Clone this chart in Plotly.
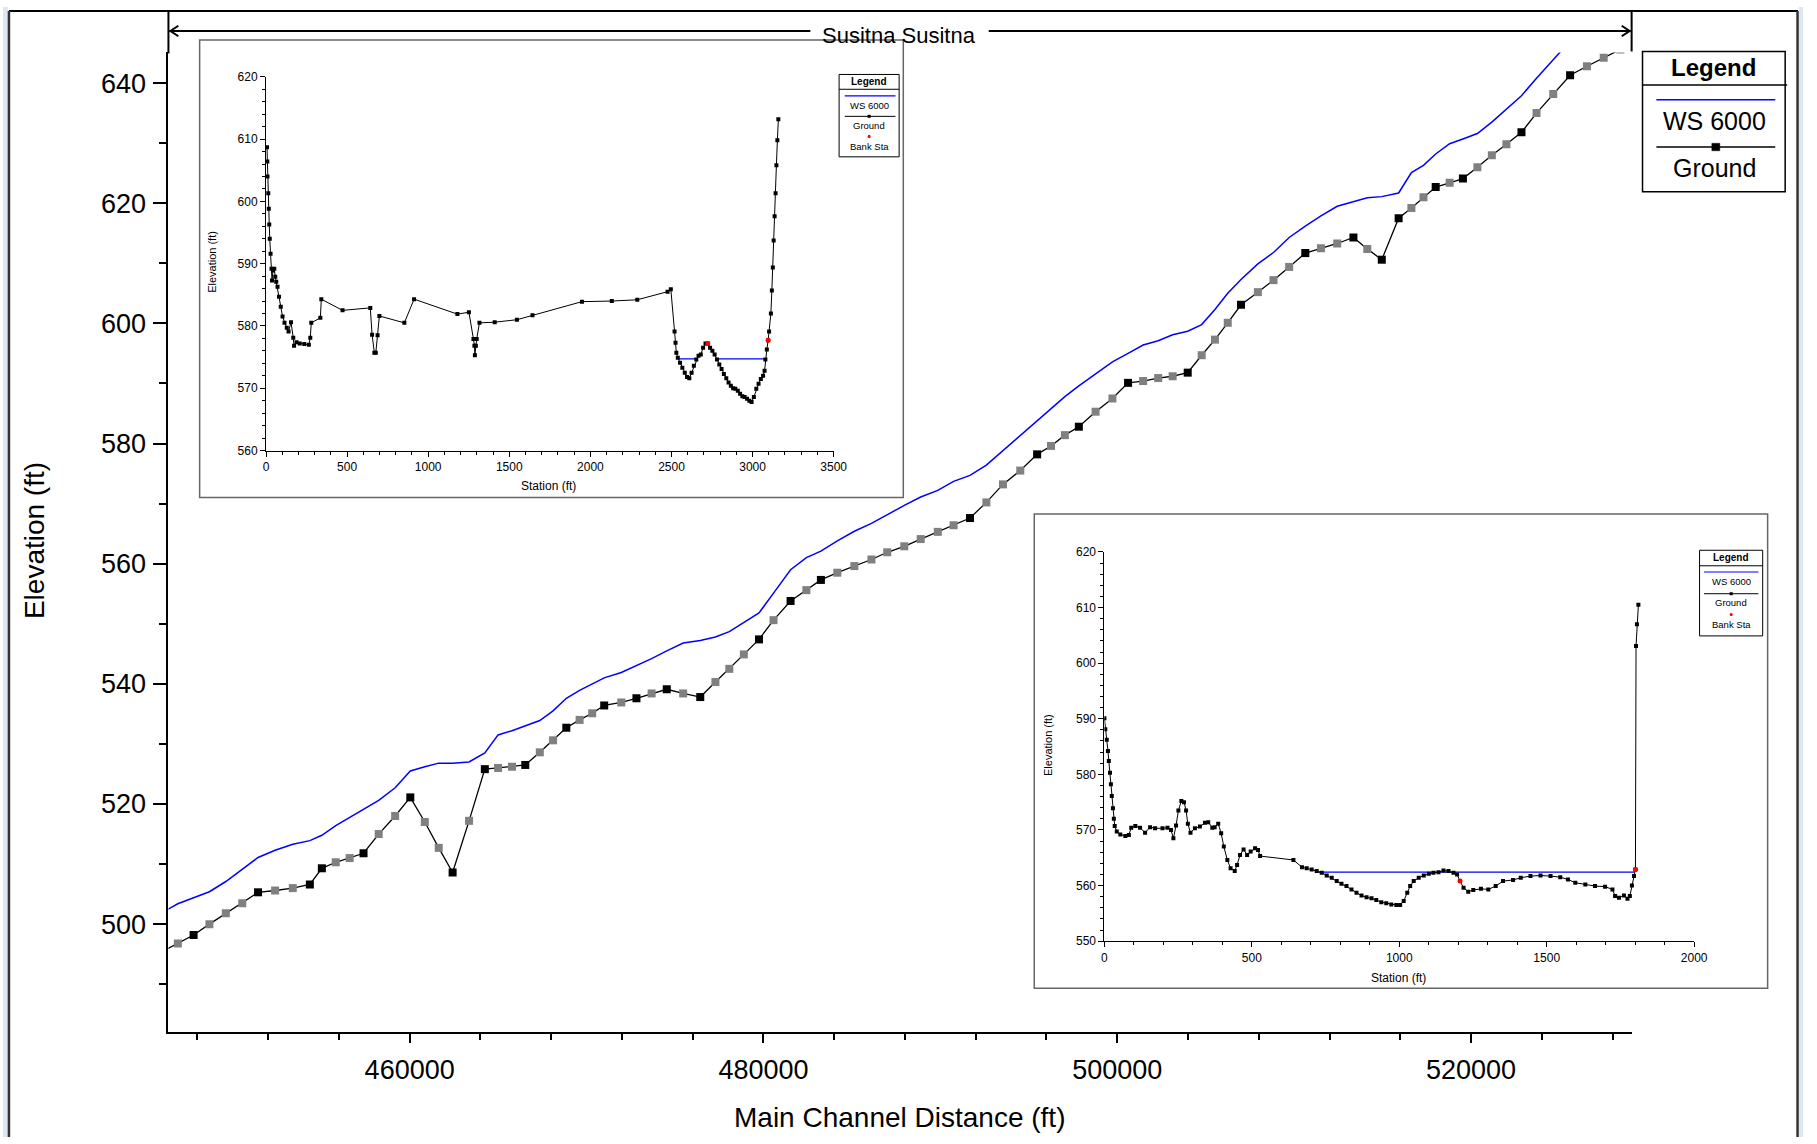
import plotly.graph_objects as go

W, H = 1817, 1144

# ---------------- main profile data ----------------
ground_dist = [445990, 446894, 447787, 448680, 449608, 450537, 451430, 452394, 453394, 454358,
               455036, 455822, 456608, 457393, 458250, 459179, 460036, 460857, 461643, 462428,
               463357, 464249, 464999, 465785, 466535, 467356, 468106, 468856, 469606, 470320,
               470998, 471963, 472820, 473677, 474534, 475462, 476427, 477284, 478069, 478891,
               479748, 480569, 481533, 482426, 483247, 484175, 485140, 486104, 486997, 487961,
               488889, 489854, 490747, 491675, 492600, 493538, 494518, 495470, 496254, 497038,
               497828, 498774, 499726, 500611, 501462, 502314, 503131, 503982, 504772, 505522,
               506245, 506995, 507947, 508832, 509717, 510630, 511514, 512433, 513351, 514135,
               514953, 515905, 516627, 517310, 518000, 518789, 519539, 520357, 521174, 521998,
               522849, 523700, 524646, 525598, 526550, 527497, 528440]
ground_elev = [495.4, 496.8, 498.2, 500.0, 501.8, 503.5, 505.3, 505.6, 506.0, 506.6,
               509.3, 510.3, 511.0, 511.8, 515.0, 518.0, 521.1, 517.0, 512.7, 508.6,
               517.2, 525.8, 526.0, 526.2, 526.5, 528.6, 530.6, 532.7, 534.0, 535.1,
               536.4, 536.9, 537.6, 538.4, 539.1, 538.4, 537.8, 540.3, 542.5, 544.9,
               547.4, 550.6, 553.8, 555.6, 557.3, 558.5, 559.6, 560.7, 561.9, 562.9,
               564.1, 565.3, 566.4, 567.6, 570.2, 573.2, 575.5, 578.2, 579.6, 581.4,
               582.8, 585.3, 587.5, 590.1, 590.4, 590.9, 591.2, 591.8, 594.7, 597.3,
               600.1, 603.1, 605.2, 607.2, 609.4, 611.7, 612.5, 613.3, 614.3, 612.4,
               610.6, 617.5, 619.2, 621.0, 622.7, 623.4, 624.1, 626.0, 628.0, 629.8,
               631.8, 635.0, 638.2, 641.3, 642.8, 644.2, 645.6]
# 1 = interpolated cross section, 0 = surveyed cross section
ground_interp = [1, 1, 0, 1, 1, 1, 0, 1, 1, 0,
                 0, 1, 1, 0, 1, 1, 0, 1, 1, 0,
                 1, 0, 1, 1, 0, 1, 1, 0, 1, 1,
                 0, 1, 0, 1, 0, 1, 0, 1, 1, 1,
                 0, 1, 0, 1, 0, 1, 1, 1, 1, 1,
                 1, 1, 1, 0, 1, 1, 1, 0, 1, 1,
                 0, 1, 1, 0, 1, 1, 1, 0, 1, 1,
                 1, 0, 1, 1, 1, 0, 1, 1, 0, 1,
                 0, 0, 1, 1, 0, 1, 0, 1, 1, 1,
                 0, 1, 1, 0, 1, 1, 1]

ws_dist = [445990, 446894, 447787, 448680, 449608, 450537, 451430, 452394, 453394, 454358,
           455036, 455822, 456608, 457393, 458250, 459179, 460036, 460857, 461643, 462428,
           463357, 464249, 464999, 465785, 466535, 467356, 468106, 468856, 469606, 470320,
           470998, 471963, 472820, 473677, 474534, 475462, 476427, 477284, 478069, 478891,
           479748, 480569, 481533, 482426, 483247, 484175, 485140, 486104, 486997, 487961,
           488889, 489854, 490747, 491675, 492600, 493538, 494518, 495470, 496254, 497038,
           497828, 498774, 499726, 500611, 501462, 502314, 503131, 503982, 504772, 505522,
           506245, 506995, 507947, 508832, 509717, 510630, 511514, 512433, 513351, 514135,
           514953, 515905, 516627, 517310, 518000, 518789, 519539, 520357, 521174, 521998,
           522849, 523700, 524646, 525598]
ws_elev = [501.9, 503.4, 504.4, 505.4, 507.1, 509.1, 511.1, 512.3, 513.3, 513.9,
           514.8, 516.4, 517.8, 519.2, 520.6, 522.7, 525.5, 526.2, 526.8, 526.8,
           527.0, 528.5, 531.5, 532.2, 533.0, 533.9, 535.5, 537.6, 538.9, 540.0,
           541.0, 541.9, 543.0, 544.2, 545.5, 546.8, 547.2, 547.8, 548.7, 550.2,
           551.8, 555.1, 559.0, 561.0, 562.1, 563.8, 565.4, 566.7, 568.2, 569.7,
           571.1, 572.2, 573.7, 574.7, 576.4, 578.8, 581.4, 583.8, 585.8, 587.8,
           589.6, 591.6, 593.6, 595.0, 596.4, 597.1, 598.1, 598.7, 599.8, 602.3,
           605.0, 607.3, 609.9, 611.8, 614.3, 616.2, 617.9, 619.5, 620.3, 620.9,
           621.1, 621.7, 625.1, 626.3, 628.2, 629.9, 630.7, 631.6, 633.5, 635.7,
           637.9, 640.8, 643.8, 647.0]

# ---------------- cross section 1 (upper inset) ----------------
xs1_sta = [6, 8, 9, 14, 17, 20, 23, 28, 34, 37, 43, 51, 57, 63, 71, 80, 91, 102, 114, 128,
           139, 154, 168, 173, 188, 208, 236, 264, 273, 279, 335, 341, 472, 643, 654, 668, 677,
           688, 699, 853, 913, 1180, 1251, 1279, 1285, 1288, 1294, 1299, 1316, 1410, 1547, 1643,
           1948, 2132, 2289, 2476, 2496, 2519, 2525, 2530, 2539, 2553, 2567, 2582, 2596, 2610,
           2624, 2638, 2653, 2667, 2681, 2695, 2710, 2724, 2738, 2752, 2766, 2781, 2795, 2809,
           2823, 2838, 2852, 2866, 2880, 2894, 2909, 2923, 2937, 2951, 2966, 2980, 2994, 3008,
           3023, 3037, 3051, 3065, 3074, 3079, 3088, 3096, 3102, 3113, 3119, 3125, 3130, 3136,
           3142, 3147, 3153, 3159]
xs1_elev = [608.7, 606.4, 604.0, 601.3, 598.8, 596.3, 594.0, 591.6, 589.2, 587.3, 588.9, 589.2,
            587.9, 587.1, 586.3, 584.7, 583.1, 581.5, 580.5, 579.7, 579.1, 580.6, 578.1, 576.8,
            577.4, 577.2, 577.1, 577.0, 578.1, 580.5, 581.3, 584.3, 582.5, 582.9, 578.6, 575.7,
            575.7, 578.5, 581.6, 580.5, 584.3, 581.9, 582.2, 577.9, 576.8, 575.3, 576.8, 577.9,
            580.5, 580.6, 581.0, 581.7, 583.9, 584.0, 584.2, 585.5, 585.9, 579.1, 577.3, 575.7,
            574.9, 574.1, 573.3, 572.5, 571.8, 571.6, 572.5, 573.6, 574.6, 575.2, 575.4, 576.5,
            577.2, 577.2, 576.5, 576.0, 575.4, 574.6, 573.8, 573.1, 572.3, 571.6, 570.9, 570.4,
            570.0, 569.9, 569.6, 569.1, 568.7, 568.6, 568.3, 568.0, 567.8, 568.6, 569.9, 570.7,
            571.5, 572.0, 572.8, 574.6, 576.2, 577.7, 579.1, 582.0, 585.7, 589.4, 593.7, 597.6,
            601.3, 605.8, 609.8, 613.2]
xs1_ws_sta = [2545, 2660, None, 2778, 3080]
xs1_ws_elev = [574.7, 574.7, None, 574.7, 574.7]
xs1_bank_sta = [2724, 3096]
xs1_bank_elev = [577.2, 577.7]

# ---------------- cross section 2 (lower inset) ----------------
xs2_sta = [0, 3, 8, 12, 15, 19, 22, 25, 29, 32, 35, 42, 54, 71, 83, 91, 105, 121, 138, 155,
           172, 197, 214, 226, 234, 243, 251, 261, 270, 277, 283, 292, 307, 324, 341, 352,
           366, 374, 386, 396, 405, 417, 428, 442, 450, 460, 472, 484, 496, 511, 521, 528,
           641, 670, 686, 703, 720, 737, 754, 771, 788, 804, 821, 838, 855, 872, 889, 906,
           922, 939, 956, 973, 990, 1003, 1015, 1027, 1037, 1049, 1066, 1083, 1100, 1116,
           1133, 1150, 1167, 1184, 1196, 1206, 1218, 1234, 1251, 1277, 1302, 1327, 1352,
           1386, 1412, 1445, 1479, 1513, 1546, 1572, 1597, 1631, 1664, 1698, 1723, 1732,
           1745, 1762, 1774, 1782, 1789, 1796, 1801, 1803, 1806, 1811]
xs2_elev = [590.1, 588.1, 586.2, 584.2, 582.4, 580.3, 578.2, 576.1, 573.9, 572.0, 570.7, 569.7,
            569.2, 568.9, 569.1, 570.4, 570.7, 570.4, 569.5, 570.5, 570.3, 570.3, 570.4, 570.0,
            568.5, 570.8, 573.5, 575.2, 575.0, 573.5, 571.1, 569.5, 570.3, 570.6, 571.3, 571.4,
            570.4, 570.5, 571.1, 569.4, 567.0, 564.6, 563.1, 562.6, 563.7, 565.5, 566.5, 565.5,
            566.1, 566.7, 566.4, 565.3, 564.6, 563.3, 563.1, 562.9, 562.6, 562.3, 561.8, 561.4,
            560.8, 560.3, 559.9, 559.3, 558.7, 558.2, 557.9, 557.7, 557.4, 557.0, 556.8, 556.6,
            556.5, 556.5, 557.2, 558.7, 559.9, 560.8, 561.4, 561.8, 562.1, 562.3, 562.4, 562.7,
            562.6, 562.3, 562.0, 560.8, 559.6, 558.9, 559.2, 559.4, 559.3, 559.9, 560.8, 561.0,
            561.4, 561.7, 561.8, 561.7, 561.5, 561.1, 560.5, 560.2, 559.9, 559.8, 559.3, 558.1,
            557.8, 558.2, 557.6, 558.1, 560.0, 561.7, 562.9, 603.1, 607.0, 610.5]
xs2_ws_sta = [723, 1798]
xs2_ws_elev = [562.4, 562.4]
xs2_bank_sta = [1206, 1801]
xs2_bank_elev = [560.8, 562.9]

legend_labels = ["WS 6000", "Ground", "Bank Sta"]
reach_label = "Susitna Susitna"

# ---------------- helpers ----------------
def px(fx):
    return fx / W

def py(fy):
    return 1 - fy / H

FONT = "Liberation Sans, Arial, sans-serif"
shapes = []
annotations = []

def line(x0, y0, x1, y1, color="black", width=2):
    shapes.append(dict(type="line", xref="paper", yref="paper", x0=px(x0), y0=py(y0),
                       x1=px(x1), y1=py(y1), line=dict(color=color, width=width)))

def rect(x0, y0, x1, y1, line_color="black", width=1.5, fill=None, layer="above"):
    shapes.append(dict(type="rect", xref="paper", yref="paper", x0=px(x0), y0=py(y0),
                       x1=px(x1), y1=py(y1), line=dict(color=line_color, width=width),
                       fillcolor=fill if fill else "rgba(0,0,0,0)", layer=layer))

def path(pts, color="black", width=2):
    d = "M " + " L ".join(f"{px(a)},{py(b)}" for a, b in pts)
    shapes.append(dict(type="path", xref="paper", yref="paper", path=d,
                       line=dict(color=color, width=width)))

def dot(cx, cy, r, color):
    shapes.append(dict(type="circle", xref="paper", yref="paper", x0=px(cx - r), y0=py(cy - r),
                       x1=px(cx + r), y1=py(cy + r), fillcolor=color, line=dict(color=color, width=0)))

def text(fx, fy, s, size, bold=False, angle=0, xanchor="center", color="black"):
    annotations.append(dict(x=px(fx), y=py(fy), xref="paper", yref="paper",
                            text=f"<b>{s}</b>" if bold else s, showarrow=False,
                            textangle=angle, xanchor=xanchor, yanchor="middle",
                            font=dict(family=FONT, size=size, color=color)))

fig = go.Figure()

# main traces
ground_colors = ["#808080" if f else "black" for f in ground_interp]
fig.add_trace(go.Scatter(x=ws_dist, y=ws_elev, mode="lines", name=legend_labels[0],
                         line=dict(color="#0000ff", width=1.5), xaxis="x", yaxis="y"))
fig.add_trace(go.Scatter(x=ground_dist, y=ground_elev, mode="lines+markers", name=legend_labels[1],
                         line=dict(color="black", width=1.3),
                         marker=dict(symbol="square", size=8, color=ground_colors, line=dict(width=0)),
                         xaxis="x", yaxis="y"))

# inset 1 traces
fig.add_trace(go.Scatter(x=xs1_ws_sta, y=xs1_ws_elev, mode="lines", connectgaps=False,
                         line=dict(color="#0000ff", width=1.2), xaxis="x2", yaxis="y2"))
fig.add_trace(go.Scatter(x=xs1_sta, y=xs1_elev, mode="lines+markers",
                         line=dict(color="black", width=1),
                         marker=dict(symbol="square", size=4, color="black"),
                         xaxis="x2", yaxis="y2"))
fig.add_trace(go.Scatter(x=xs1_bank_sta, y=xs1_bank_elev, mode="markers",
                         marker=dict(symbol="circle", size=5, color="red"),
                         xaxis="x2", yaxis="y2"))

# inset 2 traces
fig.add_trace(go.Scatter(x=xs2_ws_sta, y=xs2_ws_elev, mode="lines",
                         line=dict(color="#0000ff", width=1.2), xaxis="x3", yaxis="y3"))
fig.add_trace(go.Scatter(x=xs2_sta, y=xs2_elev, mode="lines+markers",
                         line=dict(color="black", width=1),
                         marker=dict(symbol="square", size=4, color="black"),
                         xaxis="x3", yaxis="y3"))
fig.add_trace(go.Scatter(x=xs2_bank_sta, y=xs2_bank_elev, mode="markers",
                         marker=dict(symbol="circle", size=5, color="red"),
                         xaxis="x3", yaxis="y3"))

# ---------------- frame decorations ----------------
rect(0, 0, 5, H, line_color="rgba(0,0,0,0)", width=0, fill="#dde7f3", layer="below")
rect(1813, 0, W, H, line_color="rgba(0,0,0,0)", width=0, fill="#dde7f3", layer="below")
line(6, 4, 1812, 4, color="black", width=2)
line(6, 4, 6, H, color="#333333", width=2.5)
line(1811.5, 4, 1811.5, H, color="#333333", width=2.5)

# y-axis extension to the top frame and reach bracket
line(167, 4, 167, 47, width=2)
line(1644, 4, 1644, 45, width=2)
line(168, 24.3, 815, 24.3, width=2)
line(995, 24.3, 1643, 24.3, width=2)
path([(177, 19), (169, 24.3), (177, 29.6)], width=2)
path([(1634, 19), (1642, 24.3), (1634, 29.6)], width=2)
text(904, 28.5, reach_label, 22)

# main legend
rect(1655, 45, 1799, 187, line_color="black", width=1.5)
line(1655, 79, 1801, 79, width=1.5)
text(1727, 61, "Legend", 24, bold=True)
line(1669, 94, 1789, 94, color="#0000ff", width=1.5)
text(1728, 115.5, legend_labels[0], 25)
line(1669, 141.7, 1789, 141.7, width=1.5)
rect(1725, 138, 1733, 145.5, line_color="black", width=0.5, fill="black")
text(1728, 163.5, legend_labels[1], 25)

# axis titles (main)
text(32, 540, "Elevation (ft)", 28, angle=-90)
text(905, 1124, "Main Channel Distance (ft)", 28)

# inset 1 box, titles and legend
rect(198.5, 33.3, 908.8, 496.7, line_color="#666666", width=1.5, fill="white", layer="below")
text(211, 258, "Elevation (ft)", 11, angle=-90)
text(551, 485, "Station (ft)", 12)
rect(844, 68.3, 904.6, 151.7, line_color="black", width=1)
line(844, 83.3, 904.6, 83.3, width=1)
text(874.3, 75.7, "Legend", 10, bold=True)
line(849.7, 90, 900.9, 90, color="#0000ff", width=1.2)
text(874.3, 99.3, legend_labels[0], 9.5)
line(849.7, 110.7, 900.9, 110.7, width=1)
rect(873, 109.4, 875.6, 112, line_color="black", width=0.5, fill="black")
text(874.3, 120, legend_labels[1], 9.5)
dot(874.3, 131, 1.6, "red")
text(874.3, 141.3, legend_labels[2], 9.5)

# inset 2 box, titles and legend
rect(1041, 513.3, 1781.3, 993.3, line_color="#666666", width=1.5, fill="white", layer="below")
text(1055, 747, "Elevation (ft)", 11, angle=-90)
text(1409, 983, "Station (ft)", 12)
rect(1712.6, 550, 1776.3, 636.7, line_color="black", width=1)
line(1712.6, 565.7, 1776.3, 565.7, width=1)
text(1744.5, 557.3, "Legend", 10, bold=True)
line(1717, 572, 1772, 572, color="#0000ff", width=1.2)
text(1744.5, 582, legend_labels[0], 9.5)
line(1717, 594, 1772, 594, width=1)
rect(1743.2, 592.7, 1745.8, 595.3, line_color="black", width=0.5, fill="black")
text(1744.5, 603.3, legend_labels[1], 9.5)
dot(1744.5, 615, 1.6, "red")
text(1744.5, 625.3, legend_labels[2], 9.5)

# ---------------- axes ----------------
def inset_axis(rng, dtick, minor, domain, anchor):
    return dict(domain=domain, anchor=anchor, range=rng, dtick=dtick, tick0=0,
                showline=True, linecolor="black", linewidth=1, ticks="outside", ticklen=5,
                tickwidth=1, tickcolor="black", showgrid=False, zeroline=False,
                tickfont=dict(family=FONT, size=12, color="black"),
                minor=dict(dtick=minor, ticklen=3, tickwidth=1, tickcolor="black", ticks="outside"))

fig.update_layout(
    width=W, height=H, margin=dict(l=0, r=0, t=0, b=0),
    paper_bgcolor="white", plot_bgcolor="rgba(0,0,0,0)", showlegend=False,
    font=dict(family=FONT, color="black"),
    xaxis=dict(domain=[px(167), px(1644)], anchor="y", range=[446364, 529076],
               dtick=20000, tick0=0, tickformat="d", showline=True, linecolor="black",
               linewidth=2, ticks="outside", ticklen=9, tickwidth=1.5, tickcolor="black",
               showgrid=False, zeroline=False, ticklabelstandoff=3,
               tickfont=dict(family=FONT, size=27, color="black"),
               minor=dict(dtick=4000, ticklen=6, tickwidth=1.5, tickcolor="black", ticks="outside")),
    yaxis=dict(domain=[py(1038), py(46)], anchor="x", range=[482.0, 645.1],
               dtick=20, tick0=0, showline=True, linecolor="black", linewidth=2,
               ticks="outside", ticklen=13, tickwidth=1.5, tickcolor="black",
               showgrid=False, zeroline=False, ticklabelstandoff=2,
               tickfont=dict(family=FONT, size=27, color="black"),
               minor=dict(dtick=10, ticklen=7, tickwidth=1.5, tickcolor="black", ticks="outside")),
    xaxis2=inset_axis([0, 3500], 500, 100, [px(265.5), px(838.5)], "y2"),
    yaxis2=inset_axis([560, 620], 10, 2, [py(449), py(70.7)], "x2"),
    xaxis3=inset_axis([0, 2000], 500, 100, [px(1111.8), px(1707.1)], "y3"),
    yaxis3=inset_axis([550, 620], 10, 2, [py(945.7), py(551.7)], "x3"),
    shapes=shapes, annotations=annotations,
)

fig.write_html("out.html")
